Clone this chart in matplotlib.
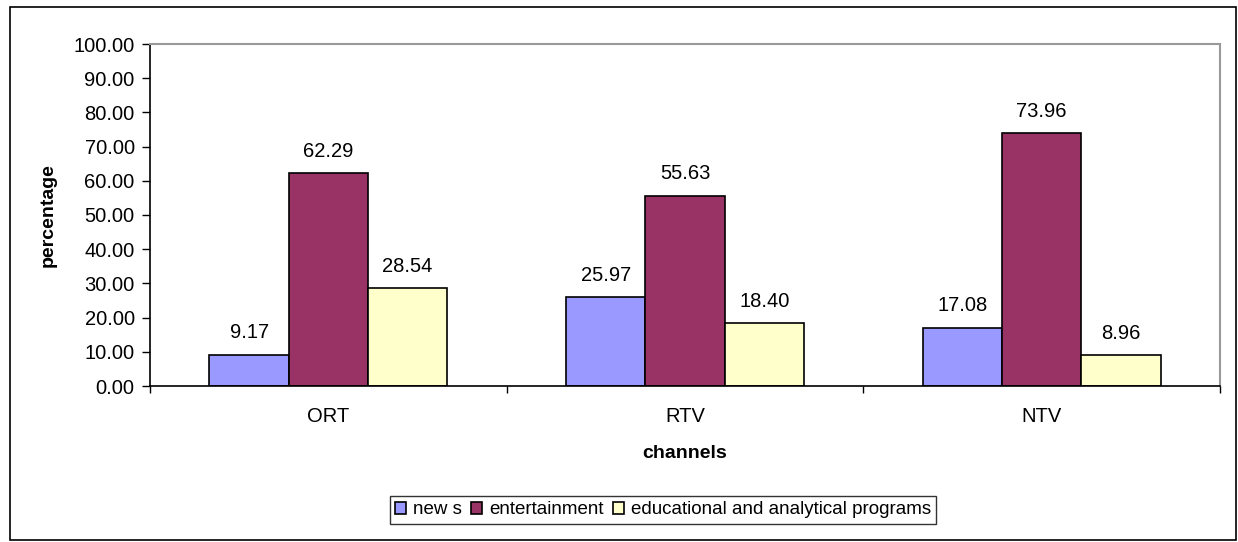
import matplotlib
matplotlib.use("Agg")
import matplotlib.pyplot as plt
import numpy as np
from matplotlib.patches import Rectangle

plt.rcParams['font.family'] = ['Liberation Sans', 'DejaVu Sans']

channels = ["ORT", "RTV", "NTV"]
series_names = ["new s", "entertainment", "educational and analytical programs"]
news = [9.17, 25.97, 17.08]
entertainment = [62.29, 55.63, 73.96]
educational = [28.54, 18.40, 8.96]
colors = ["#9999FF", "#993366", "#FFFFCC"]
yticks = np.arange(0, 101, 10)

FS = 14.5
W, H = 1238, 542
fig = plt.figure(figsize=(W/100, H/100), dpi=100)
fig.patches.append(Rectangle((10/W, 2/H), 1226/W, 533/H, transform=fig.transFigure,
                             fill=False, edgecolor='black', linewidth=1.2))
ax = fig.add_axes([150/W, 1-386/H, 1070/W, 342/H])

n = len(channels)
bw = 1/4.5
x = np.arange(n)
for i, (vals, c, lab) in enumerate(zip([news, entertainment, educational], colors, series_names)):
    pos = x + (i-1)*bw
    ax.bar(pos, vals, width=bw, color=c, edgecolor='black', linewidth=1.2, label=lab)
    for p, v in zip(pos, vals):
        ax.text(p, v + 3.6, f"{v:.2f}", ha='center', va='bottom', fontsize=FS)

ax.set_xlim(-0.5, n-0.5)
ax.set_ylim(0, 100)
ax.set_yticks(yticks)
ax.set_yticklabels([f"{t:.2f}" for t in yticks], fontsize=FS)
ax.set_xticks(x)
ax.set_xticklabels(channels, fontsize=FS)
ax.set_xticks(np.arange(-0.5, n, 1), minor=True)
ax.tick_params(axis='x', which='major', length=0, pad=15)
ax.tick_params(axis='x', which='minor', length=5, direction='out', width=1)
ax.tick_params(axis='y', length=6, direction='out', width=1, pad=5)
for s in ['top', 'right']:
    ax.spines[s].set_color('#999999')
    ax.spines[s].set_linewidth(1.5)
for s in ['left', 'bottom']:
    ax.spines[s].set_color('black')
    ax.spines[s].set_linewidth(1.2)

ax.set_ylabel("percentage", fontsize=14, fontweight='bold', labelpad=12)
ax.set_xlabel("channels", fontsize=14, fontweight='bold', labelpad=14)

leg = fig.legend(loc='center', bbox_to_anchor=(663/W, 1-510/H), ncol=3, fontsize=13.5,
                 frameon=True, fancybox=False, edgecolor='black', handlelength=0.6,
                 handleheight=0.6, handletextpad=0.35, columnspacing=0.5, borderpad=0.3,
                 borderaxespad=0)
leg.get_frame().set_linewidth(1.0)

fig.savefig("out.png", dpi=100)
